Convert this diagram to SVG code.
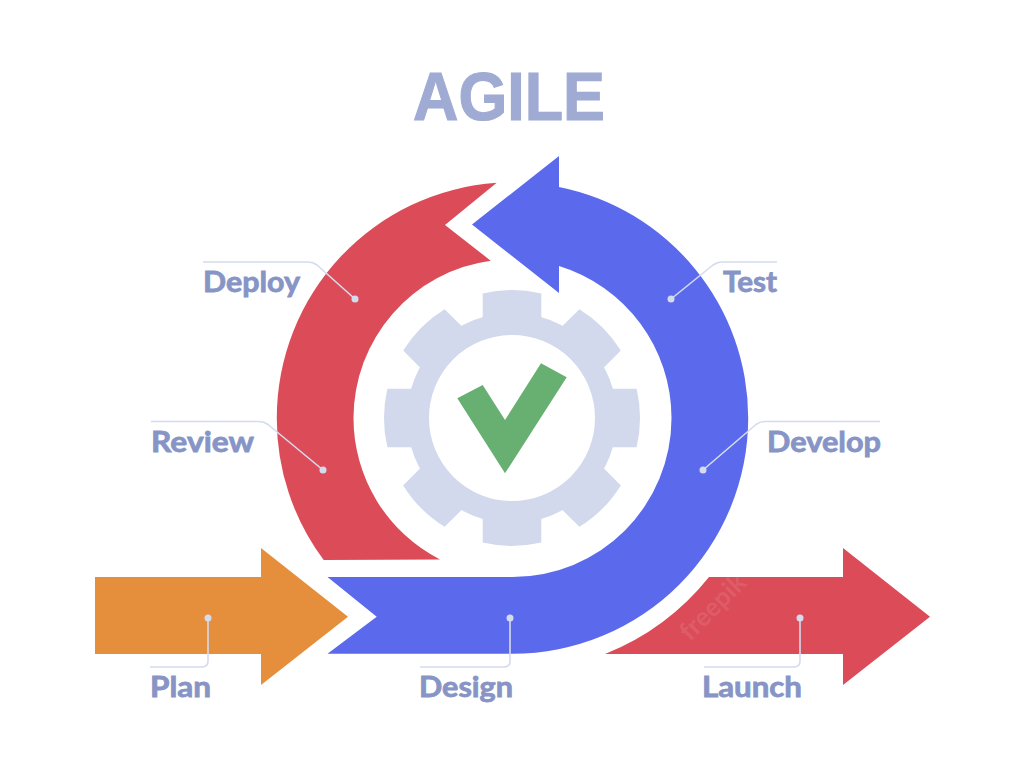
<svg xmlns="http://www.w3.org/2000/svg" xmlns:xlink="http://www.w3.org/1999/xlink" width="1024" height="768" viewBox="0 0 1024 768">
<style>
.lbl{font-family:"Lato","Liberation Sans",sans-serif;font-weight:700;font-size:29px;fill:#8794c6;stroke:#8794c6;stroke-width:.8px}
.ttl{font-family:"Liberation Sans",Arial,sans-serif;font-weight:700;font-size:69px;fill:#9fabd3;stroke:#9fabd3;stroke-width:1.2px}
.lead{fill:none;stroke:#d5dbee;stroke-width:1.6;stroke-linejoin:round}
.dot{fill:#d5dbee}
.gear{fill:#d2d9ed}
</style>
<defs>
<path id="tooth" class="gear" d="M-29.3 -100V-124.6A128 128 0 0 1 29.3 -124.6V-100Z"/>
</defs>
<rect width="1024" height="768" fill="#fff"/>
<g id="title"><text class="ttl" x="413" y="120" textLength="192" lengthAdjust="spacingAndGlyphs">AGILE</text></g>
<g id="arrows">
<path id="arc-red" fill="#db4c58" d="M323.7 560A235.7 235.7 0 0 1 276.8 418A235.7 235.7 0 0 1 496.7 182.8L445 225L490.7 260.7A159 159 0 0 0 353.5 418A159 159 0 0 0 440 559.5Z"/>
<path id="arc-blue" fill="#5b6aec" d="M327.5 577L376.7 616.7L327.5 653.7H512.5A235.7 235.7 0 0 0 748.2 418A235.7 235.7 0 0 0 559 186.9V156L472 224.5L559 293V266A159 159 0 0 1 671.5 418A159 159 0 0 1 512.5 577Z"/>
<path id="arrow-plan" fill="#e58f3c" d="M95 577H261V548L348 616.7L261 685V654H95Z"/>
<path id="arrow-launch" fill="#db4c58" d="M605 654A253 253 0 0 0 709 577H843V548L930 616.7L843 685V654Z"/>
<text transform="translate(690 642) rotate(-45)" font-family="Lato,'Liberation Sans',sans-serif" font-weight="700" font-size="26" fill="#fff" fill-opacity="0.1">freepik</text>
</g>
<g id="gear" transform="translate(512 418)">
<circle r="94" fill="none" stroke="#d2d9ed" stroke-width="22"/>
<use xlink:href="#tooth" href="#tooth"/>
<use xlink:href="#tooth" href="#tooth" transform="rotate(45)"/>
<use xlink:href="#tooth" href="#tooth" transform="rotate(90)"/>
<use xlink:href="#tooth" href="#tooth" transform="rotate(135)"/>
<use xlink:href="#tooth" href="#tooth" transform="rotate(180)"/>
<use xlink:href="#tooth" href="#tooth" transform="rotate(225)"/>
<use xlink:href="#tooth" href="#tooth" transform="rotate(270)"/>
<use xlink:href="#tooth" href="#tooth" transform="rotate(315)"/>
</g>
<path id="check" fill="#68b071" d="M457.3 398.3L482.7 385L505 420L541 363.3L566.7 377.3L505 473.3Z"/>
<g id="connectors">
<path class="lead" d="M203 262H308Q313 262 317 265L355 299"/>
<path class="lead" d="M777 262H722Q717 262 713 265L671 299"/>
<path class="lead" d="M151 421.5H259Q264 421.5 268 424.5L323 470"/>
<path class="lead" d="M880 421.5H765Q760 421.5 756 424.5L703 470"/>
<path class="lead" d="M208 618V661Q208 667 202 667H150"/>
<path class="lead" d="M510 618V661Q510 667 504 667H420"/>
<path class="lead" d="M800 618V661Q800 667 794 667H704"/>
<circle class="dot" cx="355" cy="299" r="3.5"/>
<circle class="dot" cx="671" cy="299" r="3.5"/>
<circle class="dot" cx="323" cy="470" r="3.5"/>
<circle class="dot" cx="703" cy="470" r="3.5"/>
<circle class="dot" cx="208" cy="618" r="3.5"/>
<circle class="dot" cx="510" cy="618" r="3.5"/>
<circle class="dot" cx="800" cy="618" r="3.5"/>
</g>
<g id="labels">
<text id="deploy" class="lbl" x="203" y="291.5" textLength="97" lengthAdjust="spacingAndGlyphs">Deploy</text>
<text id="test" class="lbl" x="723" y="291.5" textLength="54" lengthAdjust="spacingAndGlyphs">Test</text>
<text id="review" class="lbl" x="151" y="451.5" textLength="103" lengthAdjust="spacingAndGlyphs">Review</text>
<text id="develop" class="lbl" x="767" y="451.5" textLength="114" lengthAdjust="spacingAndGlyphs">Develop</text>
<text id="plan" class="lbl" x="150" y="696.5" textLength="61" lengthAdjust="spacingAndGlyphs">Plan</text>
<text id="design" class="lbl" x="419" y="696.5" textLength="94" lengthAdjust="spacingAndGlyphs">Design</text>
<text id="launch" class="lbl" x="702" y="696.5" textLength="100" lengthAdjust="spacingAndGlyphs">Launch</text>
</g>
</svg>
